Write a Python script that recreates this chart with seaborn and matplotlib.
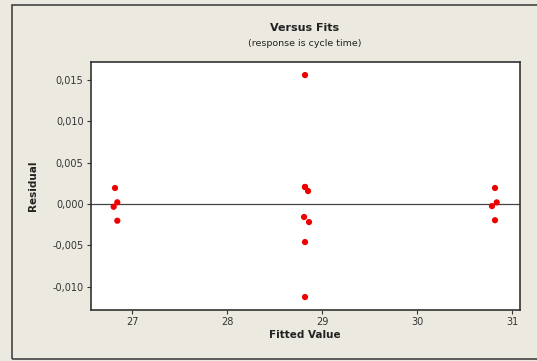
import matplotlib
matplotlib.use("Agg")
import matplotlib.pyplot as plt
import seaborn as sns
import pandas as pd
from matplotlib.patches import Rectangle

fitted = [26.821, 26.807, 26.845, 26.845,
          28.821, 28.821, 28.853, 28.811, 28.863, 28.821, 28.821, 28.821,
          30.821, 30.789, 30.839, 30.821]
residual = [0.00194, -0.00033, 0.00021, -0.00202,
            0.0156, 0.00206, 0.00157, -0.00157, -0.00218, -0.0046, -0.01125, 0.00206,
            0.00194, -0.00025, 0.00020, -0.00196]
xticks = [27, 28, 29, 30, 31]
yticks = [-0.010, -0.005, 0.000, 0.005, 0.010, 0.015]
ytick_labels = ["-0,010", "-0,005", "0,000", "0,005", "0,010", "0,015"]

df = pd.DataFrame({"Fitted Value": fitted, "Residual": residual})

sns.set_style("white")
plt.rcParams['font.family'] = ['DejaVu Sans']
bg = "#ECE9E0"
fig = plt.figure(figsize=(5.37, 3.61), dpi=100, facecolor=bg)
fig.patches.append(Rectangle((12/537, 1-359/361), 530/537, (359-5)/361,
                             transform=fig.transFigure, fill=False,
                             edgecolor="#444444", linewidth=1.2))
ax = fig.add_axes([90.5/537, 1-310/361, (520-90.5)/537, (310-62)/361])
ax.set_facecolor("white")
sns.scatterplot(data=df, x="Fitted Value", y="Residual", ax=ax, color="#EE0000",
                s=20, edgecolor="none", zorder=3)
ax.axhline(0, color="#444444", linewidth=0.9, zorder=2)
ax.set_xlim(26.563, 31.084)
ax.set_ylim(-0.01282, 0.01718)
ax.set_xticks(xticks)
ax.set_xticklabels([str(t) for t in xticks])
ax.set_yticks(yticks)
ax.set_yticklabels(ytick_labels)
ax.tick_params(axis='both', direction='out', length=3, width=0.8, color="#333333",
               labelsize=7, labelcolor="#333333", pad=2, left=True, bottom=True)
for sp in ax.spines.values():
    sp.set_color("#333333")
    sp.set_linewidth(1.2)
ax.set_xlabel("Fitted Value", fontsize=7.5, fontweight='bold', labelpad=2, color="#222222")
ax.set_ylabel("Residual", fontsize=7.5, fontweight='bold', labelpad=10, color="#222222")
fig.text(305/537, 1-28/361, "Versus Fits", ha='center', va='center', fontsize=8,
         fontweight='bold', color="#222222")
fig.text(305/537, 1-44/361, "(response is cycle time)", ha='center', va='center',
         fontsize=6.8, color="#222222")
fig.savefig("out.png", dpi=100, facecolor=bg)
